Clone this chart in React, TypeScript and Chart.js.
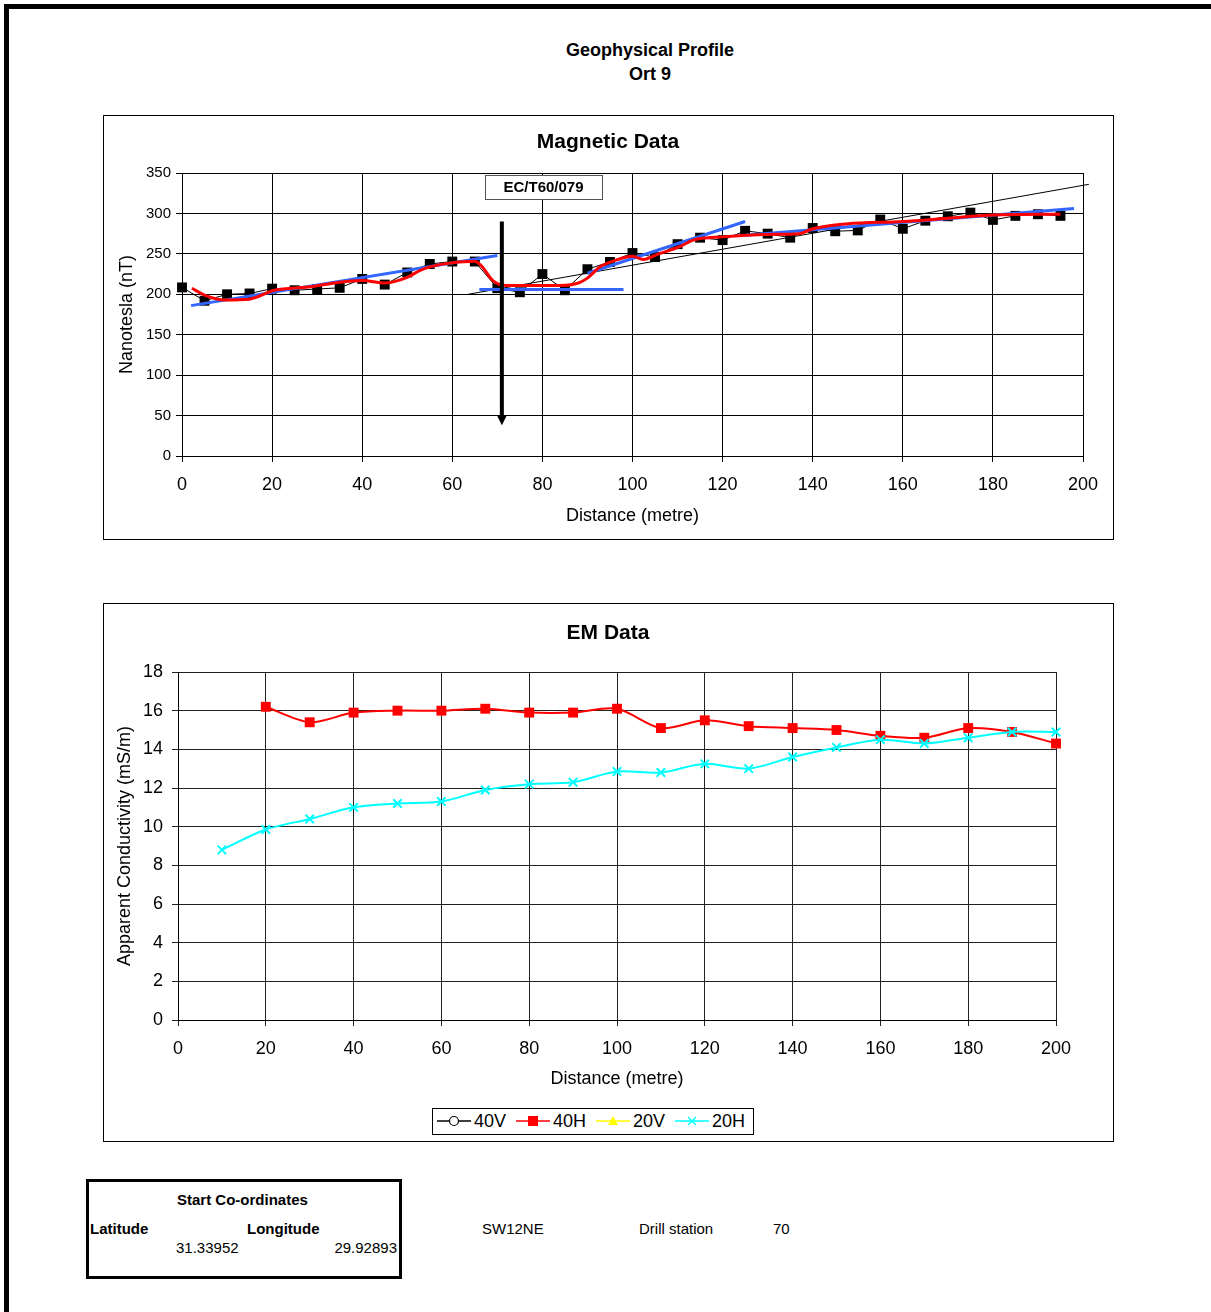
import React, { useEffect, useRef } from "react";
import { Chart, registerables } from "chart.js";

Chart.register(...registerables);

const FONT = "'Liberation Sans', Arial, Helvetica, sans-serif";
Chart.defaults.font.family = FONT;
Chart.defaults.color = "#000";

// ---------- Magnetic data ----------
const magDistance = [0, 5, 10, 15, 20, 25, 30, 35, 40, 45, 50, 55, 60, 65, 70, 75, 80, 85, 90, 95, 100, 105, 110, 115, 120, 125, 130, 135, 140, 145, 150, 155, 160, 165, 170, 175, 180, 185, 190, 195];
const magValues = [208.5, 192, 200, 201, 207, 205, 206.5, 208, 219, 212, 227, 237.5, 240.5, 240.5, 207.5, 202.5, 225, 205, 231, 240, 251, 246, 262, 270, 267, 278.5, 275, 270, 282, 278, 279, 292.5, 281, 291, 296.5, 301, 292, 297, 299, 297];

// smoothed (red) profile
const smoothDistance = [2.2, 5, 9.5, 15, 20.5, 28, 35, 40, 45, 50, 53, 57.5, 65, 66.5, 69, 72, 84, 88, 90, 92.8, 95.7, 100, 102.4, 105.4, 110.5, 113.5, 120, 130, 137, 140, 147.5, 160, 170, 180, 195];
const smoothValues = [207.5, 199, 193, 194, 205, 209, 215, 217, 214, 221, 230, 237, 241, 235, 217, 211, 211, 214, 220, 234, 241, 247, 243, 249, 259, 267, 271, 274, 275, 281, 287, 290, 294, 298, 299];

// blue fitted segments
const fitADistance = [2, 70];
const fitAValues = [186, 248];
const fitBDistance = [66, 98];
const fitBValues = [206, 206];
const fitCDistance = [90, 125];
const fitCValues = [226, 290];
const fitDDistance = [125, 198];
const fitDValues = [273, 306];

// thin black regional trend
const trendDistance = [63.5, 201.3];
const trendValues = [200, 336];

// annotation
const arrowDistance = 71;
const arrowTopValue = 290;
const arrowTipValue = 38;
const labelText = "EC/T60/079";
const labelLeft = 67.3;
const labelRight = 93.2;
const labelTop = 347.5;
const labelBottom = 318;

// ---------- EM data ----------
const emDistance = [10, 20, 30, 40, 50, 60, 70, 80, 90, 100, 110, 120, 130, 140, 150, 160, 170, 180, 190, 200];
const em40H = [null, 16.2, 15.4, 15.9, 16.0, 16.0, 16.1, 15.9, 15.9, 16.1, 15.1, 15.5, 15.2, 15.1, 15.0, 14.7, 14.6, 15.1, 14.9, 14.3];
const em20H = [8.8, 9.85, 10.4, 11.0, 11.2, 11.3, 11.9, 12.2, 12.3, 12.85, 12.8, 13.25, 13.0, 13.6, 14.1, 14.5, 14.3, 14.6, 14.9, 14.9];
const em40V: (number | null)[] = [];
const em20V: (number | null)[] = [];

const legendLabels = ["40V", "40H", "20V", "20H"];

const pts = (xs: number[], ys: (number | null)[]) =>
  xs.map((x, i) => ({ x, y: ys[i] === undefined ? null : ys[i] }));

const annotationPlugin = {
  id: "magAnnotation",
  afterDatasetsDraw(chart: any) {
    const { ctx, scales } = chart;
    const x = scales.x;
    const y = scales.y;
    ctx.save();
    // arrow
    const ax = x.getPixelForValue(arrowDistance);
    const top = y.getPixelForValue(arrowTopValue);
    const tip = y.getPixelForValue(arrowTipValue);
    ctx.strokeStyle = "#000";
    ctx.fillStyle = "#000";
    ctx.lineWidth = 4;
    ctx.beginPath();
    ctx.moveTo(ax, top);
    ctx.lineTo(ax, tip - 8);
    ctx.stroke();
    ctx.beginPath();
    ctx.moveTo(ax - 5, tip - 10);
    ctx.lineTo(ax + 5, tip - 10);
    ctx.lineTo(ax, tip);
    ctx.closePath();
    ctx.fill();
    // label box
    const l = Math.round(x.getPixelForValue(labelLeft));
    const r = Math.round(x.getPixelForValue(labelRight));
    const t = Math.round(y.getPixelForValue(labelTop));
    const b = Math.round(y.getPixelForValue(labelBottom));
    ctx.fillStyle = "#fff";
    ctx.fillRect(l, t, r - l, b - t);
    ctx.strokeStyle = "#555";
    ctx.lineWidth = 1;
    ctx.strokeRect(l + 0.5, t + 0.5, r - l, b - t);
    ctx.fillStyle = "#000";
    ctx.font = `bold 15px ${FONT}`;
    ctx.textAlign = "center";
    ctx.textBaseline = "middle";
    ctx.fillText(labelText, (l + r) / 2, (t + b) / 2 + 1);
    ctx.restore();
  },
};

function MagChart() {
  const ref = useRef<HTMLCanvasElement | null>(null);
  useEffect(() => {
    if (!ref.current) return;
    const blue = "#3366FF";
    const chart = new Chart(ref.current, {
      type: "line",
      data: {
        datasets: [
          {
            label: "smoothed",
            data: pts(smoothDistance, smoothValues),
            borderColor: "#FF0000",
            borderWidth: 3,
            pointRadius: 0,
            cubicInterpolationMode: "monotone",
            order: 0,
            clip: false as any,
          },
          ...[
            [fitADistance, fitAValues],
            [fitBDistance, fitBValues],
            [fitCDistance, fitCValues],
            [fitDDistance, fitDValues],
          ].map(([xs, ys], i) => ({
            label: "fit" + i,
            data: pts(xs as number[], ys as number[]),
            borderColor: blue,
            borderWidth: 3,
            pointRadius: 0,
            tension: 0,
            order: 1,
            clip: false as any,
          })),
          {
            label: "Magnetic",
            data: pts(magDistance, magValues),
            borderColor: "#000",
            backgroundColor: "#000",
            borderWidth: 1,
            pointStyle: "rect",
            pointRadius: 7,
            pointBorderWidth: 0,
            tension: 0,
            order: 2,
            clip: false as any,
          },
          {
            label: "trend",
            data: pts(trendDistance, trendValues),
            borderColor: "#000",
            borderWidth: 1,
            pointRadius: 0,
            tension: 0,
            order: 3,
            clip: false as any,
          },
        ],
      },
      options: {
        responsive: false,
        animation: false,
        devicePixelRatio: 1,
        layout: { padding: { top: 57, right: 30, left: 0, bottom: 0 } },
        plugins: {
          legend: { display: false },
          title: { display: false },
          tooltip: { enabled: false },
        },
        scales: {
          x: {
            type: "linear",
            min: 0,
            max: 200,
            ticks: { stepSize: 20, font: { size: 18 }, color: "#000", padding: 12 },
            grid: { color: "#000", lineWidth: 1, tickLength: 6 },
            border: { color: "#000" },
            title: {
              display: true,
              text: "Distance (metre)",
              font: { size: 18 },
              color: "#000",
              padding: { top: 0, bottom: 12 },
            },
            afterFit(s: any) {
              s.height = 83;
              s.paddingLeft = 0;
              s.paddingRight = 0;
            },
          },
          y: {
            type: "linear",
            min: 0,
            max: 350,
            ticks: { stepSize: 50, font: { size: 15 }, color: "#000", padding: 5 },
            grid: { color: "#000", lineWidth: 1, tickLength: 6 },
            border: { color: "#000" },
            title: {
              display: true,
              text: "Nanotesla (nT)",
              font: { size: 18 },
              color: "#000",
              padding: { top: 12, bottom: 0 },
            },
            afterFit(s: any) {
              s.width = 78;
              s.paddingTop = 0;
              s.paddingBottom = 0;
            },
          },
        },
      } as any,
      plugins: [annotationPlugin],
    });
    return () => chart.destroy();
  }, []);
  return <canvas ref={ref} width={1009} height={423} style={{ display: "block", width: 1009, height: 423 }} />;
}

function EmChart() {
  const ref = useRef<HTMLCanvasElement | null>(null);
  useEffect(() => {
    if (!ref.current) return;
    const chart = new Chart(ref.current, {
      type: "line",
      data: {
        datasets: [
          {
            label: "20H",
            data: pts(emDistance, em20H),
            borderColor: "#00FFFF",
            backgroundColor: "#00FFFF",
            borderWidth: 2,
            pointStyle: "crossRot",
            pointRadius: 6,
            pointBorderWidth: 2,
            tension: 0.3,
            order: 0,
            clip: false as any,
          },
          {
            label: "40H",
            data: pts(emDistance, em40H),
            borderColor: "#FF0000",
            backgroundColor: "#FF0000",
            borderWidth: 2,
            pointStyle: "rect",
            pointRadius: 7,
            pointBorderWidth: 0,
            tension: 0.3,
            order: 1,
            clip: false as any,
          },
          {
            label: "40V",
            data: pts(emDistance, em40V),
            borderColor: "#000",
            pointRadius: 0,
            order: 2,
          },
          {
            label: "20V",
            data: pts(emDistance, em20V),
            borderColor: "#FFFF00",
            pointRadius: 0,
            order: 3,
          },
        ],
      },
      options: {
        responsive: false,
        animation: false,
        devicePixelRatio: 1,
        layout: { padding: { top: 68, right: 57, left: 0, bottom: 0 } },
        plugins: {
          legend: { display: false },
          title: { display: false },
          tooltip: { enabled: false },
        },
        scales: {
          x: {
            type: "linear",
            min: 0,
            max: 200,
            ticks: { stepSize: 20, font: { size: 18 }, color: "#000", padding: 12 },
            grid: { color: "#222", lineWidth: 1, tickLength: 6 },
            border: { color: "#000" },
            title: {
              display: true,
              text: "Distance (metre)",
              font: { size: 18 },
              color: "#000",
              padding: { top: 0, bottom: 51 },
            },
            afterFit(s: any) {
              s.height = 121;
              s.paddingLeft = 0;
              s.paddingRight = 0;
            },
          },
          y: {
            type: "linear",
            min: 0,
            max: 18,
            ticks: { stepSize: 2, font: { size: 18 }, color: "#000", padding: 9 },
            grid: { color: "#222", lineWidth: 1, tickLength: 6 },
            border: { color: "#000" },
            title: {
              display: true,
              text: "Apparent Conductivity (mS/m)",
              font: { size: 18 },
              color: "#000",
              padding: { top: 10, bottom: 0 },
            },
            afterFit(s: any) {
              s.width = 74;
              s.paddingTop = 0;
              s.paddingBottom = 0;
            },
          },
        },
      } as any,
    });
    return () => chart.destroy();
  }, []);
  return <canvas ref={ref} width={1009} height={537} style={{ display: "block", width: 1009, height: 537 }} />;
}

const abs = (left: number, top: number, extra: React.CSSProperties = {}): React.CSSProperties => ({
  position: "absolute",
  left,
  top,
  ...extra,
});

function LegendMarker({ kind }: { kind: string }) {
  const w = 34;
  const h = 20;
  const cy = 10;
  const cx = 17;
  if (kind === "40V")
    return (
      <svg width={w} height={h}>
        <line x1={0} y1={cy} x2={w} y2={cy} stroke="#000" strokeWidth={1.5} />
        <circle cx={cx} cy={cy} r={4.5} fill="#fff" stroke="#000" strokeWidth={1.2} />
      </svg>
    );
  if (kind === "40H")
    return (
      <svg width={w} height={h}>
        <line x1={0} y1={cy} x2={w} y2={cy} stroke="#FF0000" strokeWidth={1.5} />
        <rect x={cx - 5} y={cy - 5} width={10} height={10} fill="#FF0000" />
      </svg>
    );
  if (kind === "20V")
    return (
      <svg width={w} height={h}>
        <line x1={0} y1={cy} x2={w} y2={cy} stroke="#FFFF00" strokeWidth={1.5} />
        <polygon points={`${cx - 5},${cy + 4} ${cx + 5},${cy + 4} ${cx},${cy - 5}`} fill="#FFFF00" />
      </svg>
    );
  return (
    <svg width={w} height={h}>
      <line x1={0} y1={cy} x2={w} y2={cy} stroke="#00FFFF" strokeWidth={1.5} />
      <line x1={cx - 4} y1={cy - 4} x2={cx + 4} y2={cy + 4} stroke="#00FFFF" strokeWidth={1.5} />
      <line x1={cx - 4} y1={cy + 4} x2={cx + 4} y2={cy - 4} stroke="#00FFFF" strokeWidth={1.5} />
    </svg>
  );
}

export default function App() {
  const txt: React.CSSProperties = { fontFamily: FONT, color: "#000", whiteSpace: "nowrap" };
  const legendPos = [
    { m: 437, t: 474 },
    { m: 516, t: 553 },
    { m: 596, t: 633 },
    { m: 675, t: 712 },
  ];
  return (
    <div style={{ position: "absolute", left: 0, top: 0, width: 1211, height: 1312, background: "#fff", overflow: "hidden" }}>
      {/* page frame */}
      <div style={abs(4, 4, { width: 1207, height: 5, background: "#000" })} />
      <div style={abs(4, 4, { width: 5, height: 1308, background: "#000" })} />

      {/* main title */}
      <div style={abs(450, 38, { ...txt, width: 400, textAlign: "center", fontWeight: "bold", fontSize: 18, lineHeight: "24px" })}>
        <div>Geophysical Profile</div>
        <div>Ort 9</div>
      </div>

      {/* magnetic chart */}
      <div style={abs(103, 115, { width: 1011, height: 425, border: "1px solid #000", boxSizing: "border-box" })}>
        <MagChart />
      </div>
      <div style={abs(408, 129, { ...txt, width: 400, textAlign: "center", fontWeight: "bold", fontSize: 21, lineHeight: "24px" })}>
        Magnetic Data
      </div>

      {/* EM chart */}
      <div style={abs(103, 603, { width: 1011, height: 539, border: "1px solid #000", boxSizing: "border-box" })}>
        <EmChart />
      </div>
      <div style={abs(408, 620, { ...txt, width: 400, textAlign: "center", fontWeight: "bold", fontSize: 21, lineHeight: "24px" })}>
        EM Data
      </div>

      {/* legend */}
      <div style={abs(432, 1108, { width: 322, height: 27, border: "1px solid #000", boxSizing: "border-box", background: "#fff" })} />
      {legendLabels.map((lab, i) => (
        <React.Fragment key={lab}>
          <div style={abs(legendPos[i].m, 1111, { width: 34, height: 20 })}>
            <LegendMarker kind={lab} />
          </div>
          <div style={abs(legendPos[i].t, 1110, { ...txt, fontSize: 18, lineHeight: "22px" })}>{lab}</div>
        </React.Fragment>
      ))}

      {/* co-ordinates box */}
      <div style={abs(86, 1179, { width: 316, height: 100, border: "3px solid #000", boxSizing: "border-box" })} />
      <div style={abs(177, 1191, { ...txt, fontSize: 15, fontWeight: "bold", lineHeight: "17px" })}>Start Co-ordinates</div>
      <div style={abs(90, 1220, { ...txt, fontSize: 15, fontWeight: "bold", lineHeight: "17px" })}>Latitude</div>
      <div style={abs(247, 1220, { ...txt, fontSize: 15, fontWeight: "bold", lineHeight: "17px" })}>Longitude</div>
      <div style={abs(176, 1239, { ...txt, fontSize: 15, lineHeight: "17px" })}>31.33952</div>
      <div style={abs(297, 1239, { ...txt, fontSize: 15, lineHeight: "17px", width: 100, textAlign: "right" })}>29.92893</div>
      <div style={abs(482, 1220, { ...txt, fontSize: 15, lineHeight: "17px" })}>SW12NE</div>
      <div style={abs(639, 1220, { ...txt, fontSize: 15, lineHeight: "17px" })}>Drill station</div>
      <div style={abs(773, 1220, { ...txt, fontSize: 15, lineHeight: "17px" })}>70</div>
    </div>
  );
}
